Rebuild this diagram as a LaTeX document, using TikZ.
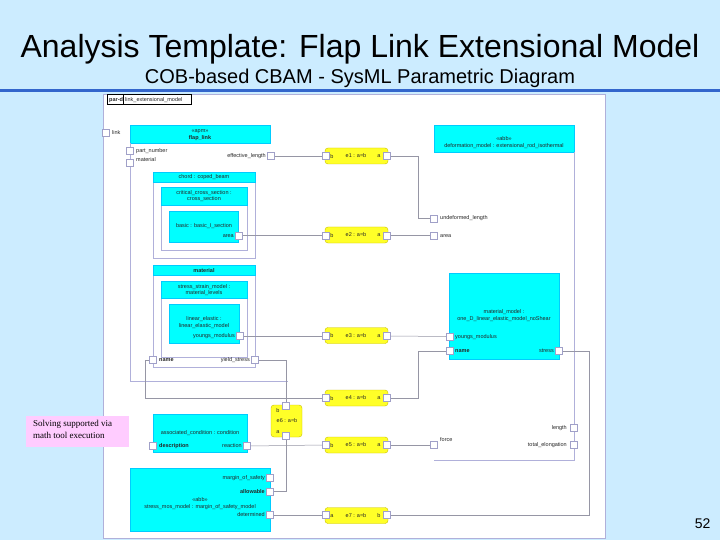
\documentclass[tikz,border=0pt]{standalone}
\usepackage{fontspec}
\setmainfont{Liberation Sans}
\newfontfamily\notefont{Liberation Serif}
\definecolor{slidebg}{RGB}{204,236,255}
\definecolor{ruleblue}{RGB}{51,102,204}
\definecolor{cyanfill}{RGB}{0,255,255}
\definecolor{framec}{RGB}{176,176,218}
\definecolor{connc}{RGB}{150,150,165}
\definecolor{portc}{RGB}{160,160,200}
\definecolor{eqfill}{RGB}{255,255,40}
\definecolor{eqdraw}{RGB}{200,190,0}
\definecolor{notefill}{RGB}{255,204,255}
\tikzset{
  txt/.style={font=\fontsize{5.5}{6.5}\selectfont, inner sep=0pt, text=black!85},
  btxt/.style={txt, font=\fontsize{5.5}{6.5}\selectfont\bfseries},
  port/.style={draw=portc, fill=white, minimum size=7pt, inner sep=0pt, line width=0.5pt},
  cyanbox/.style={fill=cyanfill, draw=cyanfill!80!blue, line width=0.3pt, inner sep=0pt, anchor=north west},
  framebox/.style={draw=framec, line width=0.6pt, inner sep=0pt, anchor=north west},
  eqbox/.style={draw=eqdraw, fill=eqfill, rounded corners=3pt, line width=0.4pt, inner sep=0pt, minimum width=63pt, minimum height=16pt},
  conn/.style={draw=connc, line width=0.5pt},
  fline/.style={draw=framec, line width=0.6pt}
}
\begin{document}
\begin{tikzpicture}[x=1pt,y=-1pt]
\useasboundingbox (0,0) rectangle (720,540);
\fill[slidebg] (0,0) rectangle (720,540);
% title
\node[anchor=base, font=\fontsize{32}{36}\selectfont] (title) at (360,58) {Analysis Template: Flap Link Extensional Model};
\node[anchor=base, font=\fontsize{20}{24}\selectfont] (subtitle) at (360,84) {COB-based CBAM - SysML Parametric Diagram};
\fill[ruleblue] (0,89) rectangle (720,92);
% diagram area
\node[fill=white, draw=framec, line width=0.5pt, minimum width=502pt, minimum height=444pt, inner sep=0pt, anchor=north west] (area) at (103,94) {};
\node[draw=black, line width=0.5pt, minimum width=84pt, minimum height=10pt, inner sep=0pt, anchor=north west] (hdr) at (107,94.5) {};
\node[btxt, anchor=base west] (hdrk) at (109,101.5) {par-d};
\node[txt, anchor=base west] (hdrn) at (125,101.5) {link\_extensional\_model};
\draw[line width=0.5pt] (123,94.5) -- (123,104.5);

% flap_link
\node[cyanbox, minimum width=140pt, minimum height=18pt] (flaph) at (130,125) {};
\node[txt, anchor=base] (flapt1) at (200,133) {«apm»};
\node[btxt, anchor=base] (flapt2) at (200,140) {flap\_link};
\draw[fline] (130,143) -- (130,381) -- (288,381);
\node[port] (plink) at (106,133) {};
\node[txt, anchor=base west] (llink) at (112,135) {link};
\node[port] (ppn) at (130,151) {};
\node[txt, anchor=base west] (lpn) at (136,152.5) {part\_number};
\node[port] (pmat) at (130,163) {};
\node[txt, anchor=base west] (lmat) at (136,162) {material};
\node[port] (pel) at (271,156) {};
\node[txt, anchor=base east] (lel) at (266,157.5) {effective\_length};

% chord
\node[framebox, minimum width=102pt, minimum height=86pt] (chordf) at (153,172) {};
\node[cyanbox, minimum width=102pt, minimum height=10pt] (chordh) at (153,172) {};
\node[txt, anchor=base] (chordt) at (204,179) {chord : coped\_beam};
\node[framebox, minimum width=86pt, minimum height=63pt] (ccsf) at (161,187) {};
\node[cyanbox, minimum width=86pt, minimum height=18pt] (ccsh) at (161,187) {};
\node[txt, anchor=base] (ccst1) at (204,194.5) {critical\_cross\_section :};
\node[txt, anchor=base] (ccst2) at (204,201) {cross\_section};
\node[cyanbox, minimum width=69pt, minimum height=31pt] (basic) at (169,211) {};
\node[txt, anchor=base] (basict) at (204,228) {basic : basic\_I\_section};
\node[port] (parea) at (239,235.5) {};
\node[txt, anchor=base east] (larea) at (234,237) {area};

% material
\node[framebox, minimum width=102pt, minimum height=102pt] (matf) at (153,265) {};
\node[cyanbox, minimum width=102pt, minimum height=10pt] (math) at (153,265) {};
\node[btxt, anchor=base] (matt) at (204,272) {material};
\node[framebox, minimum width=86pt, minimum height=76pt] (ssmf) at (161,281) {};
\node[cyanbox, minimum width=86pt, minimum height=17pt] (ssmh) at (161,281) {};
\node[txt, anchor=base] (ssmt1) at (204,288) {stress\_strain\_model :};
\node[txt, anchor=base] (ssmt2) at (204,294.5) {material\_levels};
\node[cyanbox, minimum width=70pt, minimum height=39pt] (linel) at (169,304) {};
\node[txt, anchor=base] (linelt1) at (204,320) {linear\_elastic :};
\node[txt, anchor=base] (linelt2) at (204,327) {linear\_elastic\_model};
\node[port] (pym1) at (240,336) {};
\node[txt, anchor=base east] (lym1) at (235,337.5) {youngs\_modulus};
\node[port] (pname1) at (153,360) {};
\node[btxt, anchor=base west] (lname1) at (159,361.5) {name};
\node[port] (pys) at (255,360) {};
\node[txt, anchor=base east] (lys) at (250,361.5) {yield\_stress};

% equations
\node[eqbox] (e1) at (356.5,156) {};
\node[txt] (e1t) at (356,156) {e1 : a=b};
\node[txt] (e1lb) at (332,156.5) {b};
\node[txt] (e1la) at (379,156.5) {a};
\node[port] (e1b) at (326,156) {};
\node[port] (e1a) at (387,156) {};

\node[eqbox] (e2) at (356.5,235) {};
\node[txt] (e2t) at (356,235) {e2 : a=b};
\node[txt] (e2lb) at (332,235.5) {b};
\node[txt] (e2la) at (379,235.5) {a};
\node[port] (e2b) at (326,235.5) {};
\node[port] (e2a) at (387,235.5) {};

\node[eqbox] (e3) at (356.5,335.5) {};
\node[txt] (e3t) at (356,335.5) {e3 : a=b};
\node[txt] (e3lb) at (332,336) {b};
\node[txt] (e3la) at (379,336) {a};
\node[port] (e3b) at (326,336) {};
\node[port] (e3a) at (387,336) {};

\node[eqbox] (e4) at (356.5,398) {};
\node[txt] (e4t) at (356,398) {e4 : a=b};
\node[txt] (e4lb) at (332,398.5) {b};
\node[txt] (e4la) at (379,398.5) {a};
\node[port] (e4b) at (326,398) {};
\node[port] (e4a) at (387,398) {};

\node[eqbox] (e5) at (356.5,445) {};
\node[txt] (e5t) at (356,445) {e5 : a=b};
\node[txt] (e5lb) at (332,445.5) {b};
\node[txt] (e5la) at (379,445.5) {a};
\node[port] (e5b) at (326,445) {};
\node[port] (e5a) at (387,445) {};

\node[eqbox] (e7) at (356.5,515.5) {};
\node[txt] (e7t) at (356,515.5) {e7 : a=b};
\node[txt] (e7la) at (332,516) {a};
\node[txt] (e7lb) at (379,516) {b};
\node[port] (e7a) at (326,515) {};
\node[port] (e7b) at (387,515) {};

\node[eqbox, minimum width=31pt, minimum height=32pt] (e6) at (286.5,421) {};
\node[txt] (e6lb) at (278,411) {b};
\node[txt] (e6t) at (287,421) {e6 : a=b};
\node[txt] (e6la) at (278,432) {a};
\node[port] (e6b) at (286,406) {};
\node[port] (e6a) at (286,436) {};

% deformation model
\node[cyanbox, minimum width=140pt, minimum height=27pt] (defh) at (434,125) {};
\node[txt, anchor=base] (deft1) at (504,141) {«abb»};
\node[txt, anchor=base] (deft2) at (504,147.5) {deformation\_model : extensional\_rod\_isothermal};
\draw[fline] (574,152) -- (574,460) -- (434,460);
\node[port] (pud) at (434,218.5) {};
\node[txt, anchor=base west] (lud) at (440,220) {undeformed\_length};
\node[port] (parea2) at (434,235.5) {};
\node[txt, anchor=base west] (larea2) at (440,237) {area};
\node[port] (plen) at (573.5,428) {};
\node[txt, anchor=base east] (llen) at (567,429.5) {length};
\node[port] (ptel) at (573.5,445) {};
\node[txt, anchor=base east] (ltel) at (567,446.5) {total\_elongation};
\node[port] (pforce) at (434,445) {};
\node[txt, anchor=base west] (lforce) at (440,441.5) {force};

% material model
\node[cyanbox, minimum width=110pt, minimum height=86pt] (mm) at (449,273) {};
\node[txt, anchor=base] (mmt1) at (504,313) {material\_model :};
\node[txt, anchor=base] (mmt2) at (504,320) {one\_D\_linear\_elastic\_model\_noShear};
\node[port] (pym2) at (449.5,336.5) {};
\node[txt, anchor=base west] (lym2) at (455,338) {youngs\_modulus};
\node[port] (pname2) at (449.5,351) {};
\node[btxt, anchor=base west] (lname2) at (455,352.5) {name};
\node[port] (pstress) at (559,351) {};
\node[txt, anchor=base east] (lstress) at (554,352.5) {stress};

% condition
\node[cyanbox, minimum width=94pt, minimum height=38pt] (cond) at (153,414) {};
\node[txt, anchor=base] (condt) at (200,434) {associated\_condition : condition};
\node[port] (pdesc) at (153,446) {};
\node[btxt, anchor=base west] (ldesc) at (159,447) {description};
\node[port] (preac) at (247,446) {};
\node[txt, anchor=base east] (lreac) at (242,447) {reaction};

% stress mos model
\node[cyanbox, minimum width=140pt, minimum height=63pt] (mos) at (130,468) {};
\node[port] (pmos) at (270,477.5) {};
\node[txt, anchor=base east] (lmos) at (265,479) {margin\_of\_safety};
\node[port] (pallow) at (270,491.5) {};
\node[btxt, anchor=base east] (lallow) at (265,493) {allowable};
\node[txt, anchor=base] (most1) at (200,501) {«abb»};
\node[txt, anchor=base] (most2) at (200,508.5) {stress\_mos\_model : margin\_of\_safety\_model};
\node[port] (pdet) at (270,515) {};
\node[txt, anchor=base east] (ldet) at (265,516.5) {determined};

% note
\node[fill=notefill, minimum width=103pt, minimum height=31pt, inner sep=0pt, anchor=north west] (note) at (26,416) {};
\node[anchor=north west, inner sep=0pt, align=left, font=\notefont\fontsize{9}{12}\selectfont] (notet) at (33,420) {Solving supported via\\math tool execution};

% page number
\node[anchor=base east, font=\fontsize{14}{16}\selectfont] (pageno) at (714,528) {52};

% connectors
\draw[conn] (pel.east) -- (e1b.west);
\draw[conn] (e1a.east) -- (418,156) |- (pud.west);
\draw[conn] (parea.east) -- (e2b.west);
\draw[conn] (e2a.east) -- (parea2.west);
\draw[conn] (pym1.east) -- (e3b.west);
\draw[conn] (e3a.east) -- (pym2.west);
\draw[conn] (pname1.west) -- (145,360) |- (e4b.west);
\draw[conn] (pys.east) -- (286,360) -- (e6b.north);
\draw[conn] (e4a.east) -- (418,398) |- (pname2.west);
\draw[conn] (pstress.east) -- (589,351) |- (e7b.east);
\draw[conn] (e6a.south) |- (pallow.east);
\draw[conn] (pdet.east) -- (e7a.west);
\draw[conn] (preac.east) -- (e5b.west);
\draw[conn] (e5a.east) -- (pforce.west);
\end{tikzpicture}
\end{document}
